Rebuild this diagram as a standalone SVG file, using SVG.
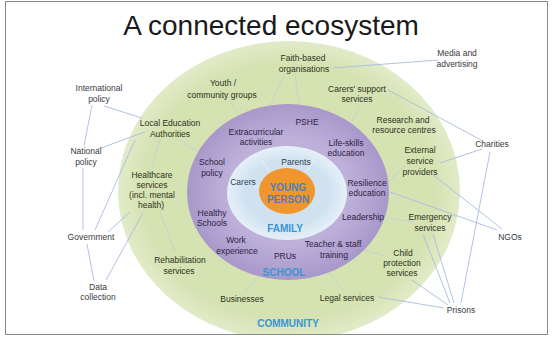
<svg xmlns="http://www.w3.org/2000/svg" width="553" height="338" viewBox="0 0 553 338">
  <style>
    text { font-family: "Liberation Sans", Arial, sans-serif; text-anchor: middle; }
    .t { font-size: 28px; fill: #1a1a1a; }
    .out { font-size: 8.5px; fill: #3a3a3a; }
    .com { font-size: 8.5px; fill: #2e3320; }
    .sch { font-size: 8.5px; fill: #2d2342; }
    .fam { font-size: 8.5px; fill: #2f3f55; }
    .ring { font-size: 10px; font-weight: bold; fill: #3a96d4; }
    .yp { font-size: 10px; font-weight: bold; fill: #4f7fb8; }
    .c { stroke: #a9bcdf; stroke-width: 0.9; fill: none; }
    .ci { stroke: #b9c9e0; stroke-width: 0.8; fill: none; opacity: 0.8; }
    .cw { stroke: #ffffff; stroke-width: 0.8; fill: none; opacity: 0.6; }
  </style>
  <defs>
    <radialGradient id="gComm" cx="0.5" cy="0.5" r="0.5">
      <stop offset="0.85" stop-color="#d5e2b2"/>
      <stop offset="1" stop-color="#e2ebc8"/>
    </radialGradient>
    <radialGradient id="gSchool" cx="0.5" cy="0.5" r="0.5">
      <stop offset="0.6" stop-color="#bdb1da"/>
      <stop offset="1" stop-color="#a898cb"/>
    </radialGradient>
    <radialGradient id="gFam" cx="0.5" cy="0.5" r="0.5">
      <stop offset="0.7" stop-color="#d0e2f0"/>
      <stop offset="1" stop-color="#e6f0f8"/>
    </radialGradient>
  </defs>

  <rect x="0" y="0" width="553" height="338" fill="#ffffff"/>
  <rect x="5.5" y="1.5" width="542" height="333" fill="none" stroke="#8a8a8a" stroke-width="1"/>

  <text class="t" x="271" y="35">A connected ecosystem</text>

  <!-- nested rings -->
  <g id="community-ring">
    <clipPath id="frameClip"><rect x="6" y="2" width="541" height="332"/></clipPath>
    <ellipse cx="289" cy="191" rx="171" ry="150" fill="url(#gComm)" clip-path="url(#frameClip)"/>
  </g>

  <!-- connectors -->
  <g id="connectors">
    <!-- outside the rings -->
    <line class="c" x1="92" y1="105" x2="84" y2="146"/>
    <line class="c" x1="104" y1="106" x2="142" y2="118"/>
    <line class="c" x1="98" y1="149" x2="145" y2="132"/>
    <line class="c" x1="83" y1="168" x2="83" y2="230"/>
    <line class="c" x1="135" y1="140" x2="95" y2="230"/>
    <line class="c" x1="130" y1="212" x2="108" y2="232"/>
    <line class="c" x1="87" y1="244" x2="94" y2="281"/>
    <line class="c" x1="143" y1="213" x2="106" y2="280"/>
    <line class="c" x1="438" y1="60" x2="333" y2="68"/>
    <line class="c" x1="388" y1="90" x2="481" y2="140"/>
    <line class="c" x1="440" y1="163" x2="482" y2="149"/>
    <line class="c" x1="490" y1="152" x2="461" y2="303"/>
    <line class="c" x1="432" y1="174" x2="502" y2="229"/>
    <line class="c" x1="390" y1="192" x2="497" y2="230"/>
    <line class="c" x1="423" y1="234" x2="450" y2="303"/>
    <line class="c" x1="433" y1="234" x2="454" y2="303"/>
    <line class="c" x1="412" y1="280" x2="448" y2="305"/>
    <line class="c" x1="378" y1="297" x2="444" y2="308"/>
    <!-- inside the community ring -->
    <line class="ci" x1="295" y1="74" x2="300" y2="113"/>
    <line class="ci" x1="285" y1="74" x2="262" y2="123"/>
    <line class="ci" x1="230" y1="101" x2="245" y2="124"/>
    <line class="ci" x1="360" y1="106" x2="345" y2="135"/>
    <line class="ci" x1="180" y1="140" x2="204" y2="156"/>
    <line class="ci" x1="160" y1="140" x2="152" y2="167"/>
    <line class="ci" x1="160" y1="212" x2="175" y2="252"/>
    <line class="ci" x1="405" y1="166" x2="386" y2="184"/>
    <line class="ci" x1="414" y1="222" x2="388" y2="218"/>
    <line class="ci" x1="386" y1="256" x2="362" y2="250"/>
    <line class="ci" x1="345" y1="292" x2="320" y2="262"/>
    <line class="ci" x1="245" y1="292" x2="270" y2="262"/>
  </g>

  <g id="school-ring">
    <ellipse cx="288" cy="192" rx="101" ry="88" fill="url(#gSchool)"/>
  </g>
  <g id="family-ring">
    <ellipse cx="287" cy="193" rx="60" ry="47" fill="url(#gFam)"/>
    <line class="cw" x1="288" y1="168" x2="293" y2="168"/>
    <line class="cw" x1="255" y1="186" x2="260" y2="188"/>
    <line class="cw" x1="262" y1="160" x2="270" y2="172"/>
    <line class="cw" x1="315" y1="160" x2="306" y2="172"/>
  </g>
  <g id="young-person">
    <ellipse cx="287" cy="191" rx="28" ry="23" fill="#f0962d"/>
    <text class="yp" x="288" y="190.5">YOUNG</text>
    <text class="yp" x="288" y="202.5">PERSON</text>
  </g>

  <!-- ring titles -->
  <g id="ring-labels">
    <text class="ring" x="285" y="232">FAMILY</text>
    <text class="ring" x="284" y="276">SCHOOL</text>
    <text class="ring" x="288" y="327">COMMUNITY</text>
  </g>

  <!-- family -->
  <g id="parents"><text class="fam" x="296" y="165">Parents</text></g>
  <g id="carers"><text class="fam" x="243" y="185">Carers</text></g>

  <!-- school -->
  <g id="pshe"><text class="sch" x="307" y="125">PSHE</text></g>
  <g id="extracurricular"><text class="sch" x="256" y="135">Extracurricular</text><text class="sch" x="256" y="145">activities</text></g>
  <g id="life-skills"><text class="sch" x="346" y="146">Life-skills</text><text class="sch" x="346" y="156">education</text></g>
  <g id="school-policy"><text class="sch" x="212" y="165">School</text><text class="sch" x="212" y="176">policy</text></g>
  <g id="resilience"><text class="sch" x="367" y="186">Resilience</text><text class="sch" x="367" y="196">education</text></g>
  <g id="leadership"><text class="sch" x="363" y="220">Leadership</text></g>
  <g id="healthy-schools"><text class="sch" x="212" y="216">Healthy</text><text class="sch" x="212" y="226">Schools</text></g>
  <g id="work-experience"><text class="sch" x="236" y="243">Work</text><text class="sch" x="237" y="254">experience</text></g>
  <g id="teacher-training"><text class="sch" x="333" y="247">Teacher &amp; staff</text><text class="sch" x="334" y="258">training</text></g>
  <g id="prus"><text class="sch" x="285" y="259">PRUs</text></g>

  <!-- community -->
  <g id="faith"><text class="com" x="303" y="61">Faith-based</text><text class="com" x="304" y="72">organisations</text></g>
  <g id="youth"><text class="com" x="223" y="86">Youth /</text><text class="com" x="222" y="98">community groups</text></g>
  <g id="carers-support"><text class="com" x="357" y="92">Carers' support</text><text class="com" x="357" y="102">services</text></g>
  <g id="lea"><text class="com" x="170" y="126">Local Education</text><text class="com" x="170" y="137">Authorities</text></g>
  <g id="research"><text class="com" x="403" y="123">Research and</text><text class="com" x="404" y="133">resource centres</text></g>
  <g id="external"><text class="com" x="420" y="153">External</text><text class="com" x="420" y="164">service</text><text class="com" x="420" y="175">providers</text></g>
  <g id="healthcare"><text class="com" x="152" y="178">Healthcare</text><text class="com" x="152" y="188">services</text><text class="com" x="152" y="198">(incl. mental</text><text class="com" x="151" y="208">health)</text></g>
  <g id="rehabilitation"><text class="com" x="180" y="263">Rehabilitation</text><text class="com" x="179" y="274">services</text></g>
  <g id="emergency"><text class="com" x="430" y="220">Emergency</text><text class="com" x="430" y="231">services</text></g>
  <g id="child-protection"><text class="com" x="403" y="256">Child</text><text class="com" x="402" y="266">protection</text><text class="com" x="402" y="276">services</text></g>
  <g id="businesses"><text class="com" x="242" y="302">Businesses</text></g>
  <g id="legal"><text class="com" x="347" y="301">Legal services</text></g>

  <!-- outside -->
  <g id="international"><text class="out" x="99" y="91">International</text><text class="out" x="99" y="102">policy</text></g>
  <g id="national"><text class="out" x="86" y="154">National</text><text class="out" x="86" y="165">policy</text></g>
  <g id="government"><text class="out" x="91" y="240">Government</text></g>
  <g id="data"><text class="out" x="98" y="290">Data</text><text class="out" x="98" y="300">collection</text></g>
  <g id="media"><text class="out" x="457" y="56">Media and</text><text class="out" x="457" y="67">advertising</text></g>
  <g id="charities"><text class="out" x="492" y="147">Charities</text></g>
  <g id="ngos"><text class="out" x="510" y="240">NGOs</text></g>
  <g id="prisons"><text class="out" x="461" y="313">Prisons</text></g>
</svg>
